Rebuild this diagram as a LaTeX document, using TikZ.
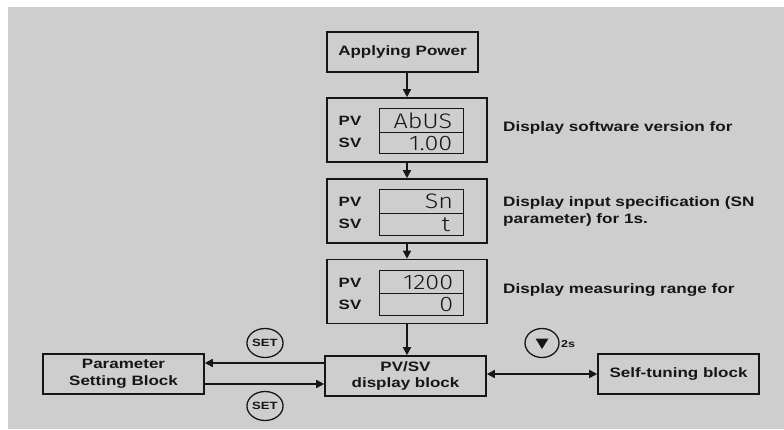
\documentclass[tikz,border=0pt]{standalone}
\usepackage{fontspec}
\setmainfont{Liberation Sans}[FakeStretch=1.25]
\newfontfamily\segfont{Fira Sans Light}[FakeStretch=1.2]
\usetikzlibrary{arrows.meta,shapes.geometric,calc}
\definecolor{bgc}{RGB}{206,206,206}
\definecolor{ink}{RGB}{22,22,22}
\tikzset{
  blk/.style={draw=ink,line width=1.6pt,fill=bgc,inner sep=0pt,font=\bfseries\fontsize{13.6}{16.5}\selectfont,align=center,text=ink},
  stage/.style={blk,minimum width=160pt,minimum height=64pt},
  disp/.style={draw=ink,line width=1.4pt,minimum width=84pt,inner sep=0pt,anchor=north west},
  segtxt/.style={anchor=east,inner sep=0pt,font=\segfont\fontsize{21}{21}\selectfont,text=ink},
  lbl/.style={inner sep=0pt,font=\bfseries\fontsize{13.5}{14}\selectfont,text=ink},
  note/.style={inner sep=0pt,anchor=west,align=left,font=\bfseries\fontsize{13.7}{17}\selectfont,text=ink},
  arr/.style={draw=ink,line width=1.6pt,-{Triangle[length=8pt,width=8pt]}},
  darr/.style={draw=ink,line width=1.6pt,{Triangle[length=8pt,width=8pt]}-{Triangle[length=8pt,width=8pt]}},
  keyc/.style={ellipse,draw=ink,line width=1.3pt,minimum width=34pt,minimum height=29pt,inner sep=0pt,font=\bfseries\fontsize{10.5}{10.5}\selectfont,text=ink}
}
\begin{document}
\begin{tikzpicture}[x=1pt,y=-1pt]
\useasboundingbox (0,0) rectangle (784,429);
\fill[white] (0,0) rectangle (784,429);
\fill[bgc] (8,7) rectangle (784,429);

% main column
\node[blk,minimum width=151pt,minimum height=40pt] (power) at (402.5,52) {Applying Power};
\node[stage] (s1) at (407,130) {};
\node[stage] (s2) at (407,211) {};
\node[stage] (s3) at (407,291.5) {};
\node[blk,minimum width=161pt,minimum height=40pt] (pvsv) at (405.5,376) {PV/SV\\display block};
\node[blk,minimum width=161pt,minimum height=40pt] (param) at (123.5,374) {Parameter\\Setting Block};
\node[blk,minimum width=161pt,minimum height=40pt] (self) at (678.5,374) {Self-tuning block};

% displays
\node[disp,minimum height=24pt] (d1a) at (379,108) {};
\node[disp,minimum height=21pt] (d1b) at (379,132) {};
\node[disp,minimum height=24pt] (d2a) at (379,189) {};
\node[disp,minimum height=22pt] (d2b) at (379,213) {};
\node[disp,minimum height=23pt] (d3a) at (379,270) {};
\node[disp,minimum height=22pt] (d3b) at (379,293) {};

\node[segtxt] (t1a) at ($(d1a.east)+(-12,0)$) {AbUS};
\node[segtxt] (t1b) at ($(d1b.east)+(-12,0)$) {1.00};
\node[segtxt] (t2a) at ($(d2a.east)+(-11,0)$) {Sn};
\node[segtxt] (t2b) at ($(d2b.east)+(-14,0)$) {t};
\node[segtxt] (t3a) at ($(d3a.east)+(-11,0)$) {1200};
\node[segtxt] (t3b) at ($(d3b.east)+(-11,0)$) {0};

\node[lbl] (p1) at (350,121) {PV};
\node[lbl] (v1) at (350,143) {SV};
\node[lbl] (p2) at (350,202) {PV};
\node[lbl] (v2) at (350,224) {SV};
\node[lbl] (p3) at (350,283) {PV};
\node[lbl] (v3) at (350,305) {SV};

% notes
\node[note] (n1) at (503,128) {Display software version for};
\node[note] (n2) at (503,211) {Display input specification (SN\\parameter) for 1s.};
\node[note] (n3) at (503,290) {Display measuring range for};

% vertical arrows
\draw[arr] (power.south -| s1.north) -- (s1.north);
\draw[arr] (s1.south) -- (s2.north);
\draw[arr] (s2.south) -- (s3.north);
\draw[arr] (s3.south) -- (s3.south |- pvsv.north);

% horizontal arrows
\draw[arr] (pvsv.west |- 0,363) -- (param.east |- 0,363);
\draw[arr] (param.east |- 0,384) -- (pvsv.west |- 0,384);
\draw[darr] (pvsv.east |- self.west) -- (self.west);

% keys
\node[keyc] (set1) at (265,343) {SET};
\node[keyc] (set2) at (265,406) {SET};
\node[keyc] (down) at (542,343) {};
\fill[ink] ($(down.center)+(-6.5,-4.5)$) -- ($(down.center)+(6.5,-4.5)$) -- ($(down.center)+(0,6)$) -- cycle;
\node[inner sep=0pt,anchor=west,font=\bfseries\fontsize{10}{10}\selectfont,text=ink] (two) at (561,344) {2s};
\end{tikzpicture}
\end{document}
